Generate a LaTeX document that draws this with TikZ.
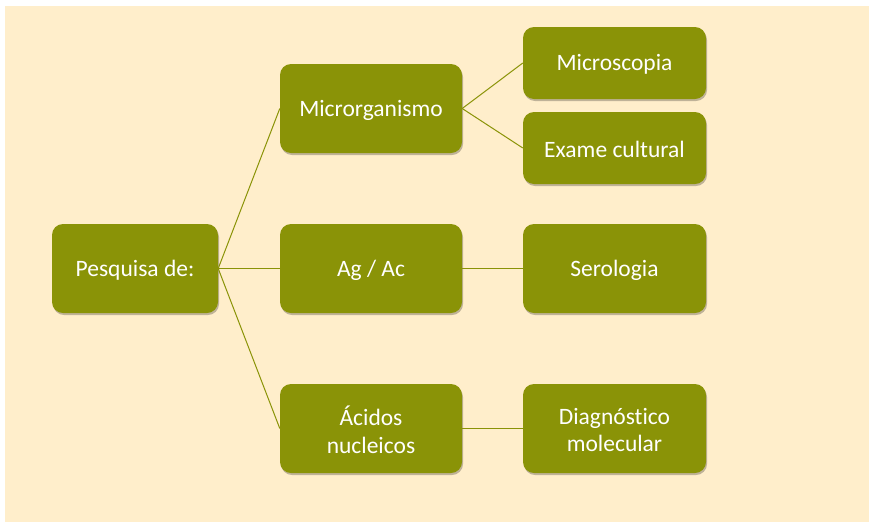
\documentclass[tikz,border=0pt]{standalone}
\usepackage{fontspec}
\setmainfont[Ligatures={NoCommon,NoContextual}]{Carlito}
\usetikzlibrary{shadows}
\definecolor{olive}{HTML}{8A9307}
\definecolor{cream}{HTML}{FFEECB}
\tikzset{
  box/.style={fill=olive, rounded corners=11pt, inner sep=0pt,
    drop shadow={shadow xshift=1pt, shadow yshift=-2pt, fill=black, opacity=0.25}},
  txt/.style={text=white, align=center, font=\fontsize{23.5}{27.5}\selectfont, yshift=-1.5pt},
  link/.style={draw=olive, line width=1pt}
}
\begin{document}
\begin{tikzpicture}[x=1pt,y=-1pt]
\useasboundingbox (0,0) rectangle (875,528);
\fill[cream] (5,6) rectangle (869,522);
\node[box, minimum width=166pt, minimum height=89pt] (p) at (135,268.5) {};
\node[box, minimum width=182pt, minimum height=89pt] (m) at (371,108.5) {};
\node[box, minimum width=182pt, minimum height=89pt] (a) at (371,268.5) {};
\node[box, minimum width=182pt, minimum height=89pt] (n) at (371,428.5) {};
\node[box, minimum width=183pt, minimum height=72pt] (ms) at (614.5,63) {};
\node[box, minimum width=183pt, minimum height=72pt] (ec) at (614.5,148) {};
\node[box, minimum width=183pt, minimum height=89pt] (s) at (614.5,268.5) {};
\node[box, minimum width=183pt, minimum height=89pt] (d) at (614.5,428.5) {};
\node[txt] (pt) at (p.center) {Pesquisa de:};
\node[txt] (mt) at (m.center) {Microrganismo};
\node[txt] (at) at (a.center) {Ag / Ac};
\node[txt] (nt) at (n.center) {Ácidos\\nucleicos};
\node[txt] (mst) at (ms.center) {Microscopia};
\node[txt] (ect) at (ec.center) {Exame cultural};
\node[txt] (st) at (s.center) {Serologia};
\node[txt] (dt) at (d.center) {Diagnóstico\\molecular};
\draw[link] (p.east) -- (m.west);
\draw[link] (p.east) -- (a.west);
\draw[link] (p.east) -- (n.west);
\draw[link] (m.east) -- (ms.west);
\draw[link] (m.east) -- (ec.west);
\draw[link] (a.east) -- (s.west);
\draw[link] (n.east) -- (d.west);
\end{tikzpicture}
\end{document}
